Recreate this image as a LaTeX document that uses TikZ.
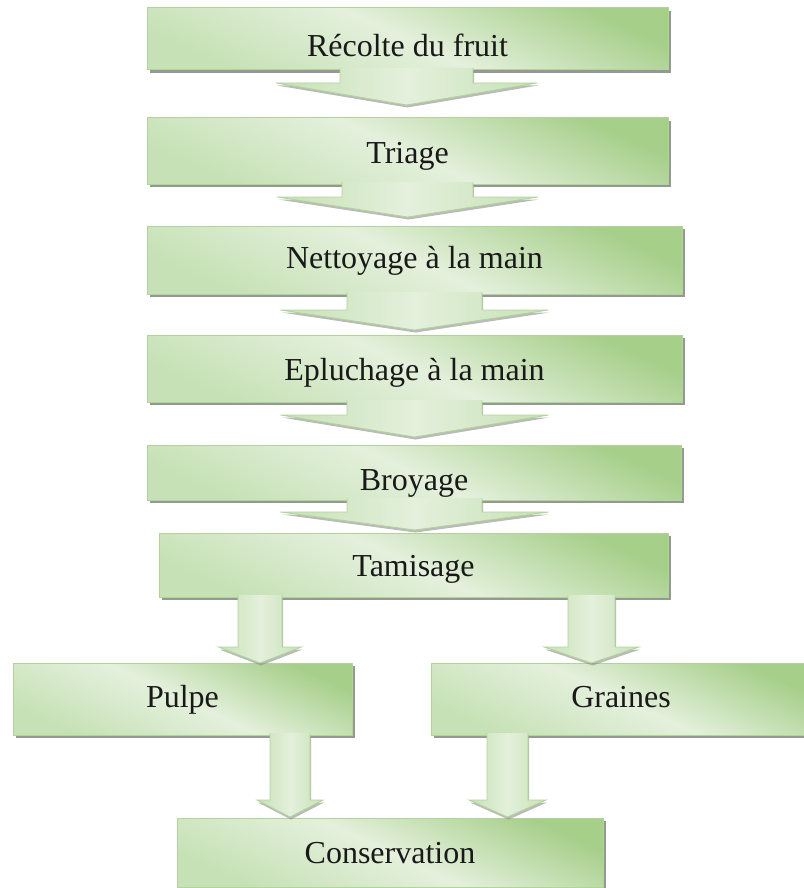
\documentclass[tikz,border=0pt]{standalone}
\usepackage{fontspec}
\setmainfont{Liberation Serif}
\usetikzlibrary{calc,shadows}
\definecolor{gDark}{RGB}{166,207,138}
\definecolor{gLight}{RGB}{228,240,220}
\definecolor{gMid}{RGB}{198,225,181}
\definecolor{gLine}{RGB}{176,213,152}
\definecolor{shd}{RGB}{140,140,140}
\tikzset{
  box/.style={draw=gLine, line width=1pt, top color=gDark, bottom color=gMid, middle color=gLight,
    shading angle=-25, inner sep=0pt, outer sep=0pt,
    font=\fontsize{32}{38}\selectfont, text=black!90,
    text height=21pt, text depth=0pt,
    drop shadow={shadow xshift=2.5pt, shadow yshift=-3pt, fill=shd, opacity=0.9}},
  arrowbody/.style={left color=gMid, right color=gMid, middle color=gLight,
    drop shadow={shadow xshift=1pt, shadow yshift=-2.5pt, fill=shd, opacity=0.6}},
  arrowedge/.style={draw=gLine, line width=0.8pt},
}
% #1 start (top centre), #2 tip, #3 stem half width, #4 head half width, #5 head length
\newcommand\blockarrow[5]{%
  \path[arrowbody] let \p1=(#1), \p2=(#2) in
    (\x1-#3,\y1) -- (\x1+#3,\y1) -- (\x1+#3,\y2+#5) -- (\x1+#4,\y2+#5) -- (\x1,\y2)
    -- (\x1-#4,\y2+#5) -- (\x1-#3,\y2+#5) -- cycle;
  \draw[arrowedge] let \p1=(#1), \p2=(#2) in
    (\x1+#3,\y1) -- (\x1+#3,\y2+#5) -- (\x1+#4,\y2+#5) -- (\x1,\y2)
    -- (\x1-#4,\y2+#5) -- (\x1-#3,\y2+#5) -- (\x1-#3,\y1);
}
\begin{document}
\begin{tikzpicture}[x=1pt,y=-1pt]
\useasboundingbox (0,0) rectangle (803,888);
\fill[white] (0,0) rectangle (803,888);

\node[box, minimum width=521pt, minimum height=62pt, text height=35pt] (b1) at (407.5,39) {Récolte du fruit};
\node[box, minimum width=521pt, minimum height=66pt, text height=25pt] (b2) at (407.5,151) {Triage};
\node[box, minimum width=535pt, minimum height=68pt, text height=17pt] (b3) at (414.5,260) {Nettoyage à la main};
\node[box, minimum width=535pt, minimum height=67pt, text height=24pt] (b4) at (414.5,368.5) {Epluchage à la main};
\node[box, minimum width=534pt, minimum height=55pt, text height=35pt] (b5) at (414,472.5) {Broyage};
\node[box, minimum width=509pt, minimum height=64pt, text height=23pt] (b6) at (413.5,565) {Tamisage};
\node[box, minimum width=339pt, minimum height=72pt, text height=17pt] (pulpe) at (182.5,699) {Pulpe};
\node[box, minimum width=380pt, minimum height=72pt, text height=17pt] (graines) at (621,699) {Graines};
\node[box, minimum width=426pt, minimum height=69pt] (cons) at (390,852.5) {Conservation};

% arrow end points
\coordinate (a1s) at ($(b1.south)+(-1,-2)$);
\coordinate (a1t) at ($(a1s |- b2.north)+(0,-13)$);
\coordinate (a2s) at ($(b2.south)+(0,-2)$);
\coordinate (a2t) at ($(a2s |- b3.north)+(0,-9)$);
\coordinate (a3s) at ($(b3.south)+(0,-2)$);
\coordinate (a3t) at ($(a3s |- b4.north)+(0,-5)$);
\coordinate (a4s) at ($(b4.south)+(0,-2)$);
\coordinate (a4t) at ($(a4s |- b5.north)+(0,-8)$);
\coordinate (a5s) at ($(b5.south)+(0.5,-2)$);
\coordinate (a5t) at ($(a5s |- b6.north)+(0,-3)$);
\coordinate (a6s) at ($(b6.south west)+(101,-2)$);
\coordinate (a6t) at (a6s |- pulpe.north);
\coordinate (a7s) at ($(b6.south west)+(432.5,-2)$);
\coordinate (a7t) at (a7s |- graines.north);
\coordinate (a8s) at ($(pulpe.south west)+(277,-2)$);
\coordinate (a8t) at ($(a8s |- cons.north)+(0,-1)$);
\coordinate (a9s) at ($(graines.south west)+(76.5,-2)$);
\coordinate (a9t) at ($(a9s |- cons.north)+(0,-1)$);

\blockarrow{a1s}{a1t}{66.5pt}{130.5pt}{22pt}
\blockarrow{a2s}{a2t}{65.5pt}{130.5pt}{20pt}
\blockarrow{a3s}{a3t}{67.5pt}{134pt}{20pt}
\blockarrow{a4s}{a4t}{67.5pt}{134pt}{22pt}
\blockarrow{a5s}{a5t}{67.5pt}{134pt}{18pt}
\blockarrow{a6s}{a6t}{22pt}{41.5pt}{16pt}
\blockarrow{a7s}{a7t}{23.5pt}{47.5pt}{16pt}
\blockarrow{a8s}{a8t}{20pt}{33pt}{17pt}
\blockarrow{a9s}{a9t}{20.5pt}{38.5pt}{17pt}
\end{tikzpicture}
\end{document}
